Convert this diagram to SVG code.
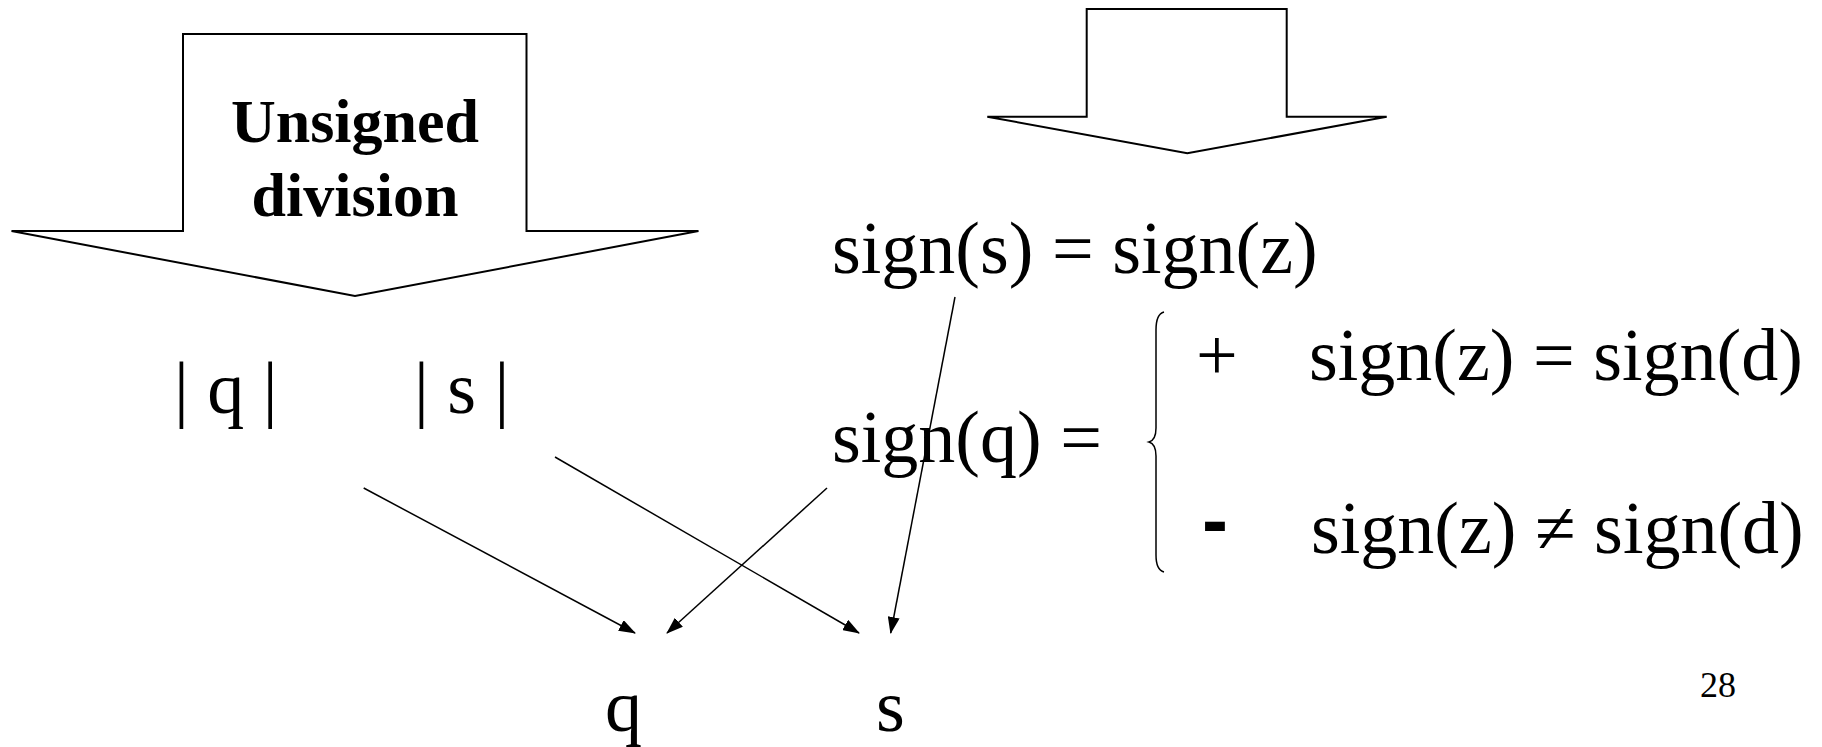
<svg xmlns="http://www.w3.org/2000/svg" width="1822" height="747" viewBox="0 0 1822 747">
<style>
.t{font-family:"Liberation Serif","Times New Roman",serif;font-size:74px;fill:#000}
.b{font-family:"Liberation Serif","Times New Roman",serif;font-size:62px;font-weight:bold;fill:#000;text-anchor:middle}
.blk{fill:#fff;stroke:#000;stroke-width:2;stroke-linejoin:miter}
.c{stroke:#000;stroke-width:1.5;fill:none}
</style>
<defs>
<marker id="ah" markerUnits="userSpaceOnUse" markerWidth="17" markerHeight="12" viewBox="0 0 17 12" refX="16" refY="6" orient="auto">
<path d="M0,0 L17,6 L0,12 z" fill="#000"/>
</marker>
</defs>
<rect width="1822" height="747" fill="#fff"/>
<g id="unsigned-division">
<polygon class="blk" points="183,34 526.5,34 526.5,231 698.5,231 355,296 11.5,231 183,231"/>
<text class="b" x="355" y="142">Unsigned</text>
<text class="b" x="355" y="216">division</text>
</g>
<g id="sign-arrow">
<polygon class="blk" points="1086.7,9 1286.7,9 1286.7,116.7 1386.7,116.7 1187.3,153.3 987.3,116.7 1086.7,116.7"/>
</g>
<g id="abs-q"><text class="t" x="174" y="413">| q |</text></g>
<g id="abs-s"><text class="t" x="414" y="413">| s |</text></g>
<g id="sign-s"><text class="t" x="832" y="273">sign(s) = sign(z)</text></g>
<g id="sign-q">
<text class="t" x="832" y="462">sign(q) =</text>
<path class="c" stroke-width="1.3" d="M1164,312 Q1156,314 1156,330 L1156,428 Q1156,440 1149,442 Q1156,444 1156,456 L1156,555 Q1156,570 1164,572"/>
<text class="t" x="1196" y="380">+</text>
<text class="t" x="1309" y="380">sign(z) = sign(d)</text>
<text x="1202" y="547" style="font-family:'Liberation Sans',Arial,sans-serif;font-size:78px;font-weight:bold">-</text>
<text class="t" x="1311" y="553">sign(z) ≠ sign(d)</text>
</g>
<g id="q"><text class="t" x="605" y="731">q</text></g>
<g id="s"><text class="t" x="876" y="731">s</text></g>
<g id="page-number"><text class="t" x="1700" y="697" style="font-size:36px">28</text></g>
<g id="connectors">
<line class="c" x1="363.7" y1="488" x2="635" y2="633" marker-end="url(#ah)"/>
<line class="c" x1="827" y1="488" x2="667" y2="633" marker-end="url(#ah)"/>
<line class="c" x1="555" y1="457" x2="859" y2="633" marker-end="url(#ah)"/>
<line class="c" x1="955" y1="297" x2="890.7" y2="633" marker-end="url(#ah)"/>
</g>
</svg>
